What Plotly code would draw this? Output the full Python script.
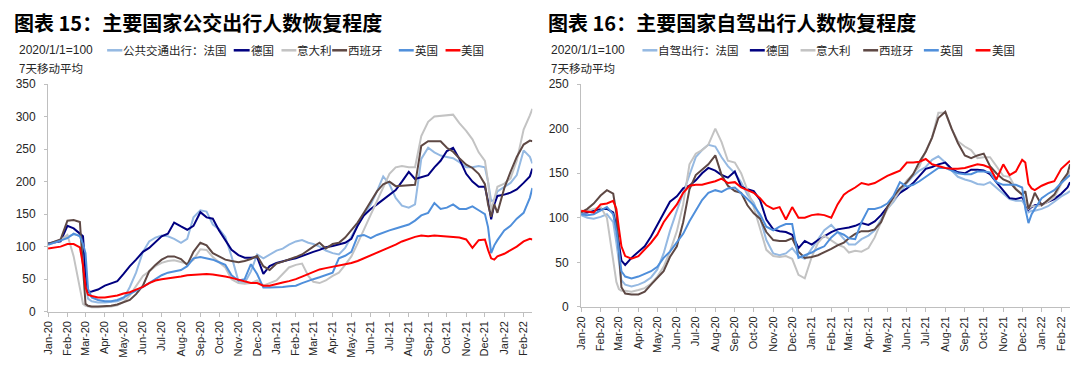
import plotly.graph_objects as go

# ---------------- data ----------------
dates = [
    "2020-01-01", "2020-01-11", "2020-01-21",
    "2020-02-01", "2020-02-11", "2020-02-21", "2020-02-26",
    "2020-03-01", "2020-03-05", "2020-03-11", "2020-03-21",
    "2020-04-01", "2020-04-11", "2020-04-21",
    "2020-05-01", "2020-05-11", "2020-05-21",
    "2020-06-01", "2020-06-11", "2020-06-21",
    "2020-07-01", "2020-07-11", "2020-07-21",
    "2020-08-01", "2020-08-11", "2020-08-21",
    "2020-09-01", "2020-09-11", "2020-09-21",
    "2020-10-01", "2020-10-11", "2020-10-21",
    "2020-11-01", "2020-11-11", "2020-11-21",
    "2020-12-01", "2020-12-11", "2020-12-21",
    "2021-01-01", "2021-01-11", "2021-01-21",
    "2021-02-01", "2021-02-11", "2021-02-21",
    "2021-03-01", "2021-03-11", "2021-03-21",
    "2021-04-01", "2021-04-11", "2021-04-21",
    "2021-05-01", "2021-05-11", "2021-05-21",
    "2021-06-01", "2021-06-11", "2021-06-21",
    "2021-07-01", "2021-07-11", "2021-07-21",
    "2021-08-01", "2021-08-11", "2021-08-21",
    "2021-09-01", "2021-09-11", "2021-09-21",
    "2021-10-01", "2021-10-11", "2021-10-21",
    "2021-11-01", "2021-11-11", "2021-11-21",
    "2021-12-01", "2021-12-06", "2021-12-11", "2021-12-16", "2021-12-21",
    "2022-01-01", "2022-01-11", "2022-01-21",
    "2022-02-01", "2022-02-11", "2022-02-15",
]

country_names = ["法国", "德国", "意大利", "西班牙", "英国", "美国"]

# 图表15 公共交通出行 (2020/1/1=100)
bus_france = [105,107,110,115,119,117,100,45,20,16,14,14,15,16,20,38,60,92,108,114,117,116,112,106,112,145,156,154,134,127,115,85,47,44,62,88,82,88,94,97,103,108,110,106,104,100,94,90,88,98,115,132,150,165,185,208,196,175,163,160,165,235,252,245,240,238,236,230,222,222,224,222,200,170,172,185,192,198,210,248,238,228]
bus_germany = [105,106,108,132,128,120,116,60,30,31,34,40,44,47,58,70,80,92,98,107,116,120,137,131,126,132,153,145,143,125,110,95,87,83,83,84,58,70,75,78,80,82,86,90,92,95,99,101,103,106,112,132,148,158,165,172,180,187,200,215,204,207,210,222,232,247,252,235,212,200,192,192,170,142,165,178,180,183,188,198,208,220]
bus_italy = [104,106,110,118,85,35,12,9,8,7,7,7,8,10,15,25,40,55,62,70,75,78,79,76,74,80,96,95,84,76,68,50,44,43,44,48,40,44,48,58,68,72,74,55,46,44,48,55,60,72,85,105,126,150,172,193,212,222,224,222,222,270,292,300,301,303,303,290,278,265,245,232,200,155,175,192,197,205,232,280,302,312]
bus_spain = [104,108,111,140,141,138,60,12,9,8,8,8,9,11,15,18,27,40,62,72,80,85,85,81,72,92,106,102,90,85,80,78,76,78,81,86,70,64,74,77,80,84,88,95,100,106,97,104,106,114,126,137,152,170,185,196,200,193,194,195,195,255,262,262,262,252,246,236,226,221,212,196,165,146,165,152,190,215,238,257,263,262]
bus_uk = [103,106,110,113,120,116,104,90,35,22,18,16,16,18,22,27,32,38,44,50,56,60,62,64,70,82,84,82,80,76,72,56,48,50,73,58,37,37,37,38,39,40,44,48,50,53,56,60,82,86,92,116,118,113,118,122,125,128,131,134,140,148,152,167,158,160,165,158,158,162,156,150,130,90,102,110,125,132,143,152,175,190]
bus_us = [97,98,100,104,104,99,72,38,26,24,22,22,23,25,28,30,34,38,44,48,50,51,53,54,56,57,58,58,57,56,54,52,49,46,44,44,40,40,43,45,47,50,54,58,62,65,67,69,71,73,75,78,82,86,90,95,99,103,108,112,115,117,116,117,116,116,115,114,111,98,110,111,95,82,80,85,89,94,100,108,112,111]

# 图表16 自驾出行 (2020/1/1=100)
car_france = [103,100,99,101,104,95,72,48,30,25,23,25,28,33,42,60,85,108,128,150,168,176,182,180,168,158,150,140,126,117,100,75,60,58,60,66,57,54,65,76,86,92,84,77,70,70,76,80,86,98,110,118,128,139,147,153,157,165,169,162,153,146,143,141,138,137,140,134,128,121,119,119,114,106,108,108,110,113,118,124,128,130]
car_germany = [106,106,108,110,110,106,90,70,52,47,55,62,68,79,92,106,118,124,133,136,142,150,156,153,148,145,152,135,132,130,120,98,87,85,84,81,66,74,70,75,79,84,87,88,89,91,94,92,96,103,112,121,128,133,139,147,155,157,160,162,155,151,150,154,154,153,149,140,131,122,121,123,117,109,112,114,115,118,121,127,134,140]
car_italy = [106,108,110,112,100,55,28,20,18,18,17,19,21,26,34,45,62,85,115,160,172,176,182,200,185,164,162,150,132,112,88,64,57,56,57,54,36,32,56,72,80,75,70,67,61,63,62,66,78,95,110,120,130,142,149,158,175,190,218,218,200,186,180,176,167,168,168,158,147,146,133,126,118,110,113,113,114,118,123,138,148,152]
car_spain = [106,110,116,125,131,127,105,58,22,15,14,14,17,25,33,40,56,68,95,132,148,154,160,170,148,136,130,128,114,105,99,84,75,74,74,77,62,55,56,58,61,65,69,72,77,82,85,85,87,95,112,124,133,140,149,163,174,190,212,219,200,184,170,167,170,172,158,150,143,140,132,126,130,110,118,128,114,120,126,140,150,160]
car_uk = [104,103,104,108,112,104,85,63,40,34,32,34,37,40,45,55,62,72,82,96,108,120,128,131,129,133,134,128,121,114,104,90,86,90,93,93,55,58,61,65,68,78,84,81,77,76,95,110,110,112,116,125,140,135,137,141,146,152,156,156,153,150,149,149,152,152,151,140,137,137,137,134,110,94,104,110,122,127,131,139,145,148]
car_us = [108,107,106,115,116,119,110,88,68,57,54,57,64,72,81,95,105,115,128,136,137,137,139,141,144,139,140,134,131,128,122,114,110,112,98,112,100,100,103,104,103,100,115,126,130,134,139,137,139,143,147,150,153,162,162,163,166,160,158,156,155,155,156,158,160,159,156,143,160,148,152,165,162,138,133,131,136,139,141,155,162,164]

bus_series = [bus_france, bus_germany, bus_italy, bus_spain, bus_uk, bus_us]
car_series = [car_france, car_germany, car_italy, car_spain, car_uk, car_us]

# ---------------- style ----------------
W, H = 1080, 369
colors = ["#95B9E2", "#000080", "#C3C3C3", "#5E4844", "#4F8FDB", "#FF0000"]
LAT = "Liberation Sans, Arial, sans-serif"
CJK = "Noto Sans CJK SC, sans-serif"
AXC = "#BFBFBF"
TXT = "#262626"

fig = go.Figure()
for vals, name, col in zip(bus_series, country_names, colors):
    fig.add_trace(go.Scatter(x=dates, y=vals, mode="lines", name=name,
                             line=dict(color=col, width=2),
                             xaxis="x", yaxis="y", showlegend=False))
for vals, name, col in zip(car_series, country_names, colors):
    fig.add_trace(go.Scatter(x=dates, y=vals, mode="lines", name=name,
                             line=dict(color=col, width=2),
                             xaxis="x2", yaxis="y2", showlegend=False))

def px(x):
    return x / W

def py(y):
    return 1 - y / H

xcommon = dict(type="date", range=["2020-01-01", "2022-02-15"], tick0="2020-01-01",
               dtick="M1", tickformat="%b-%y", tickangle=-90, ticks="outside",
               ticklen=4, tickcolor=AXC, showline=True, linecolor=AXC, linewidth=1,
               showgrid=False, zeroline=False,
               tickfont=dict(family=LAT, size=11, color=TXT))
ycommon = dict(ticks="outside", ticklen=3, tickcolor=AXC, showline=True,
               linecolor=AXC, linewidth=1, showgrid=False, zeroline=False,
               dtick=50, tickfont=dict(family=LAT, size=12, color=TXT),
               ticklabelstandoff=6)

fig.update_layout(
    width=W, height=H,
    margin=dict(l=0, r=0, t=0, b=0),
    paper_bgcolor="white", plot_bgcolor="white",
    xaxis=dict(xcommon, domain=[px(42.3), px(529.3)], anchor="y"),
    yaxis=dict(ycommon, domain=[py(316.7), py(80.1)], range=[0, 350], anchor="x"),
    xaxis2=dict(xcommon, domain=[px(578.3), px(1070)], anchor="y2"),
    yaxis2=dict(ycommon, domain=[py(311.7), py(80.2)], range=[0, 250], anchor="x2"),
)

annotations = []
shapes = []

def txt(x, y, s, size, family, bold=False, color=TXT):
    annotations.append(dict(x=px(x), y=py(y), xref="paper", yref="paper",
                            xanchor="left", yanchor="middle", showarrow=False,
                            text=("<b>%s</b>" % s) if bold else s,
                            font=dict(family=family, size=size, color=color)))

# titles
txt(6, 16.5, "图表 15：主要国家公交出行人数恢复程度", 20, CJK, bold=True, color="#000000")
txt(543, 16.5, "图表 16：主要国家自驾出行人数恢复程度", 20, CJK, bold=True, color="#000000")

# notes
txt(11, 45, "2020/1/1=100", 12, LAT)
txt(11, 63, "7天移动平均", 11.5, CJK)
txt(546, 45, "2020/1/1=100", 12, LAT)
txt(546, 63, "7天移动平均", 11.5, CJK)

# legends
left_leg = [(101.7, 117, "公共交通出行：法国"), (229, 245, "德国"), (277, 292, "意大利"),
            (328, 343, "西班牙"), (395, 410, "英国"), (442, 457, "美国")]
right_leg = [(640, 655, "自驾出行：法国"), (748, 763, "德国"), (799, 814, "意大利"),
             (862, 877, "西班牙"), (923, 938, "英国"), (975, 990, "美国")]
for items in (left_leg, right_leg):
    for (x0, x1, label), col in zip(items, colors):
        shapes.append(dict(type="line", xref="paper", yref="paper",
                           x0=px(x0), x1=px(x1), y0=py(45), y1=py(45),
                           line=dict(color=col, width=2.5)))
        txt(x1 - 1, 45, label, 11.5, CJK)

fig.update_layout(annotations=annotations, shapes=shapes)
fig.write_html("out.html", config={"displayModeBar": False},
               post_script="document.body.style.margin='0';document.body.style.overflow='hidden';")
